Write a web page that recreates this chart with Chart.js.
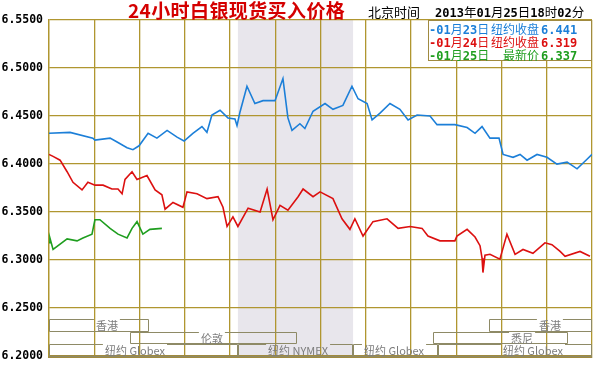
<!DOCTYPE html>
<html>
<head>
<meta charset="utf-8">
<script src="https://cdn.jsdelivr.net/npm/chart.js@4.4.1/dist/chart.umd.min.js"></script>
<style>
  body { margin: 0; background: #fff; }
  #wrap { position: relative; width: 597px; height: 369px; overflow: hidden; }
  #silverChart { position: absolute; left: 0; top: 0; }
  .hd { position: absolute; white-space: nowrap; }
  #title { left: 128px; top: 0px; font: bold 19px/20px "Noto Sans CJK SC"; letter-spacing: 0.4px; color: #d40000; }
  #clock { left: 368px; top: 5px; font: 13px/14px "Noto Sans CJK SC"; color: #000; }
  #stamp { left: 435px; top: 5px; font: 12.5px/14px "Noto Sans CJK SC"; color: #000; }
  .num { font-family: "DejaVu Sans Mono"; font-weight: bold; font-size: 12px; }
  #legend { position: absolute; left: 428px; top: 20px; width: 164px; height: 41px; box-sizing: border-box;
            border: 1px solid #a08a40; background: #fff; }
  .lrow { position: absolute; left: 0; white-space: nowrap; font: 12px/13px "Noto Sans CJK SC"; }
  .lrow span { display: inline-block; }
  .ldate { width: 62px; }
  .lnote { width: 48px; text-align: right; }
  .lval { margin-left: 2px; }
</style>
</head>
<body>
<div id="wrap">
  <canvas id="silverChart" width="597" height="369"></canvas>
  <div id="title" class="hd">24小时白银现货买入价格</div>
  <div id="clock" class="hd">北京时间</div>
  <div id="stamp" class="hd"></div>
  <div id="legend"></div>
</div>
<script>
// 24h silver spot bid chart, x = hours since window start
const yTicks = [6.20, 6.25, 6.30, 6.35, 6.40, 6.45, 6.50, 6.55];
const stampParts = ['2013', '年', '01', '月', '25', '日', '18', '时', '02', '分'];

const seriesDates = ['01月23日', '01月24日', '01月25日'];
const seriesNotes = ['纽约收盘', '纽约收盘', '最新价'];
const seriesLast = [6.441, 6.319, 6.337];
const seriesColors = ['#1c7fd8', '#dc1010', '#1f9e1f'];

const jan23Hours = [0.00, 0.93, 1.94, 2.03, 2.70, 3.01, 3.45, 3.71, 3.98, 4.38, 4.77, 5.22, 5.66, 5.97, 6.36, 6.76, 6.98,
  7.20, 7.56, 7.91, 8.22, 8.31, 8.44, 8.75, 9.10, 9.46, 9.99, 10.34, 10.56, 10.74, 11.09, 11.31, 11.67, 12.20, 12.55,
  12.99, 13.39, 13.66, 14.06, 14.28, 14.63, 15.07, 15.51, 15.87, 16.27, 16.84, 17.15, 17.94, 18.48, 18.83, 19.14,
  19.49, 19.89, 20.07, 20.51, 20.82, 21.13, 21.57, 22.01, 22.45, 22.90, 23.34, 23.78, 24.00];
const jan23Values = [6.432, 6.433, 6.427, 6.425, 6.427, 6.423, 6.417, 6.415, 6.419, 6.432, 6.427, 6.435, 6.428, 6.424,
  6.432, 6.439, 6.433, 6.451, 6.456, 6.448, 6.447, 6.440, 6.454, 6.481, 6.463, 6.466, 6.466, 6.489, 6.448, 6.435,
  6.442, 6.437, 6.455, 6.463, 6.457, 6.461, 6.481, 6.468, 6.463, 6.446, 6.453, 6.463, 6.457, 6.446, 6.451, 6.450,
  6.441, 6.441, 6.438, 6.432, 6.439, 6.427, 6.427, 6.410, 6.407, 6.410, 6.404, 6.410, 6.407, 6.400, 6.402, 6.395,
  6.405, 6.410];

const jan24Hours = [0.00, 0.18, 0.49, 0.80, 1.06, 1.46, 1.72, 2.03, 2.39, 2.78, 3.05, 3.23, 3.36, 3.67, 3.89, 4.33,
  4.69, 4.99, 5.13, 5.48, 5.92, 6.10, 6.54, 6.98, 7.47, 7.69, 7.87, 8.13, 8.35, 8.80, 9.33, 9.64, 9.90, 10.21, 10.56,
  11.01, 11.23, 11.67, 11.98, 12.55, 12.95, 13.30, 13.52, 13.88, 14.32, 14.94, 15.43, 15.96, 16.49, 16.75, 17.28,
  17.94, 18.03, 18.48, 18.83, 19.05, 19.14, 19.18, 19.27, 19.49, 19.93, 20.24, 20.60, 20.95, 21.39, 21.92, 22.23,
  22.59, 22.81, 23.47, 23.91];
const jan24Values = [6.410, 6.408, 6.404, 6.392, 6.381, 6.373, 6.381, 6.378, 6.378, 6.374, 6.374, 6.369, 6.384, 6.392,
  6.384, 6.388, 6.373, 6.368, 6.353, 6.360, 6.355, 6.371, 6.369, 6.364, 6.366, 6.355, 6.335, 6.345, 6.335, 6.354,
  6.350, 6.374, 6.342, 6.357, 6.352, 6.366, 6.374, 6.366, 6.371, 6.364, 6.343, 6.332, 6.343, 6.325, 6.340, 6.343,
  6.333, 6.335, 6.333, 6.325, 6.320, 6.320, 6.325, 6.332, 6.324, 6.315, 6.302, 6.287, 6.305, 6.306, 6.301, 6.327,
  6.306, 6.311, 6.307, 6.318, 6.316, 6.309, 6.304, 6.309, 6.304];

const jan25Hours = [0.00, 0.04, 0.18, 0.80, 1.24, 1.50, 1.90, 2.03, 2.25, 2.70, 3.05, 3.45, 3.67, 3.89, 4.15, 4.46, 4.99];
const jan25Values = [6.318, 6.323, 6.311, 6.322, 6.320, 6.323, 6.327, 6.342, 6.342, 6.333, 6.327, 6.323, 6.333, 6.340,
  6.327, 6.332, 6.333];

// trading sessions drawn in the strip at the bottom
const sessionNames = ['香港', '香港', '伦敦', '悉尼', '纽约 Globex', '纽约 NYMEX', '纽约 Globex', '纽约 Globex'];
const sessionStart = [0.00, 19.45, 3.58, 16.97, 0.00, 8.35, 13.44, 17.19];
const sessionEnd = [4.42, 24.00, 10.96, 22.94, 8.35, 13.44, 17.19, 24.00];
const sessionLabelAt = [2.56, 22.14, 7.20, 20.91, 3.80, 11.01, 15.25, 21.39];
const sessionRow = [0, 0, 1, 1, 2, 2, 2, 2];
const sessionShaded = [false, false, false, false, false, true, false, false];
const sessionRowTop = [6.2389, 6.2256, 6.2123];
const sessionRowHeight = 0.0123;

const GRID = '#b09630';

// header stamp + legend
const isNum = s => /^[0-9.]+$/.test(s);
document.getElementById('stamp').innerHTML = stampParts
  .map(p => isNum(p) ? `<span class="num">${p}</span>` : p).join('');

document.getElementById('legend').innerHTML = seriesDates.map((d, i) => {
  const dateHtml = ('-' + d).split(/([0-9-]+)/).filter(Boolean)
    .map(p => /[0-9-]/.test(p) ? `<span class="num" style="display:inline">${p}</span>` : p).join('');
  return `<div class="lrow" style="top:${1 + i * 13}px;color:${seriesColors[i]}">
    <span class="ldate">${dateHtml}</span><span class="lnote">${seriesNotes[i]}</span><span class="lval num">${seriesLast[i].toFixed(3)}</span>
  </div>`;
}).join('');

function toPoints(hours, values) {
  return hours.map((h, i) => ({ x: h, y: values[i] }));
}

const sessionPlugin = {
  id: 'sessions',
  beforeDraw(chart) {
    const { ctx, chartArea: a, scales: { x } } = chart;
    ctx.save();
    ctx.fillStyle = '#fff';
    ctx.fillRect(0, 0, chart.width, chart.height);
    ctx.fillStyle = '#e8e6ec';
    sessionStart.forEach((s, i) => {
      if (!sessionShaded[i]) return;
      const x0 = x.getPixelForValue(s);
      const x1 = x.getPixelForValue(sessionEnd[i]);
      ctx.fillRect(x0, a.top, x1 - x0, a.bottom - a.top);
    });
    ctx.restore();
  },
  afterDatasetsDraw(chart) {
    const { ctx, scales: { x, y } } = chart;
    ctx.save();
    ctx.font = '11px "Noto Sans CJK SC"';
    ctx.textAlign = 'center';
    ctx.textBaseline = 'middle';
    ctx.lineWidth = 1;
    sessionNames.forEach((name, i) => {
      const x0 = Math.round(x.getPixelForValue(sessionStart[i])) + 0.5;
      const x1 = Math.round(x.getPixelForValue(sessionEnd[i])) - 0.5;
      const top = sessionRowTop[sessionRow[i]];
      const yT = Math.round(y.getPixelForValue(top)) + 0.5;
      const yB = Math.round(y.getPixelForValue(top - sessionRowHeight)) + 0.5;
      const tx = x.getPixelForValue(sessionLabelAt[i]);
      const w = ctx.measureText(name).width;
      ctx.strokeStyle = '#8e8a66';
      ctx.beginPath();
      ctx.moveTo(x0, yT); ctx.lineTo(tx - w / 2 - 2, yT);
      ctx.moveTo(tx + w / 2 + 2, yT); ctx.lineTo(x1, yT);
      ctx.moveTo(x0, yT); ctx.lineTo(x0, yB);
      ctx.moveTo(x1, yT); ctx.lineTo(x1, yB);
      ctx.moveTo(x0, yB); ctx.lineTo(x1, yB);
      ctx.stroke();
      ctx.fillStyle = '#7c7c7c';
      ctx.fillText(name, tx, (yT + yB) / 2 + 0.5);
    });
    ctx.restore();
  }
};

const ctx = document.getElementById('silverChart').getContext('2d');
new Chart(ctx, {
  type: 'line',
  data: {
    datasets: [
      { label: seriesDates[0], data: toPoints(jan23Hours, jan23Values), borderColor: seriesColors[0] },
      { label: seriesDates[1], data: toPoints(jan24Hours, jan24Values), borderColor: seriesColors[1] },
      { label: seriesDates[2], data: toPoints(jan25Hours, jan25Values), borderColor: seriesColors[2] }
    ]
  },
  options: {
    responsive: false,
    animation: false,
    layout: { padding: { top: 20, right: 5, bottom: 7, left: 0 } },
    elements: {
      point: { radius: 0 },
      line: { borderWidth: 1.6, tension: 0, fill: false }
    },
    plugins: {
      legend: { display: false },
      tooltip: { enabled: false }
    },
    scales: {
      x: {
        type: 'linear',
        min: 0,
        max: 24,
        ticks: { display: false, stepSize: 2 },
        grid: { color: GRID, lineWidth: 1.3, drawTicks: false },
        border: { color: '#a08a40', width: 3 },
        afterFit(scale) { scale.height = 0; }
      },
      y: {
        min: yTicks[0],
        max: yTicks[yTicks.length - 1],
        afterBuildTicks(scale) { scale.ticks = yTicks.map(v => ({ value: v })); },
        ticks: {
          color: '#000',
          padding: 6,
          font: { family: 'DejaVu Sans Mono', weight: 'bold', size: 11.5 },
          callback: v => v.toFixed(4)
        },
        grid: { color: GRID, lineWidth: 1.3, drawTicks: false },
        border: { color: GRID, width: 1.3 },
        afterFit(scale) { scale.width = 49; }
      }
    }
  },
  plugins: [sessionPlugin]
});
</script>
</body>
</html>
